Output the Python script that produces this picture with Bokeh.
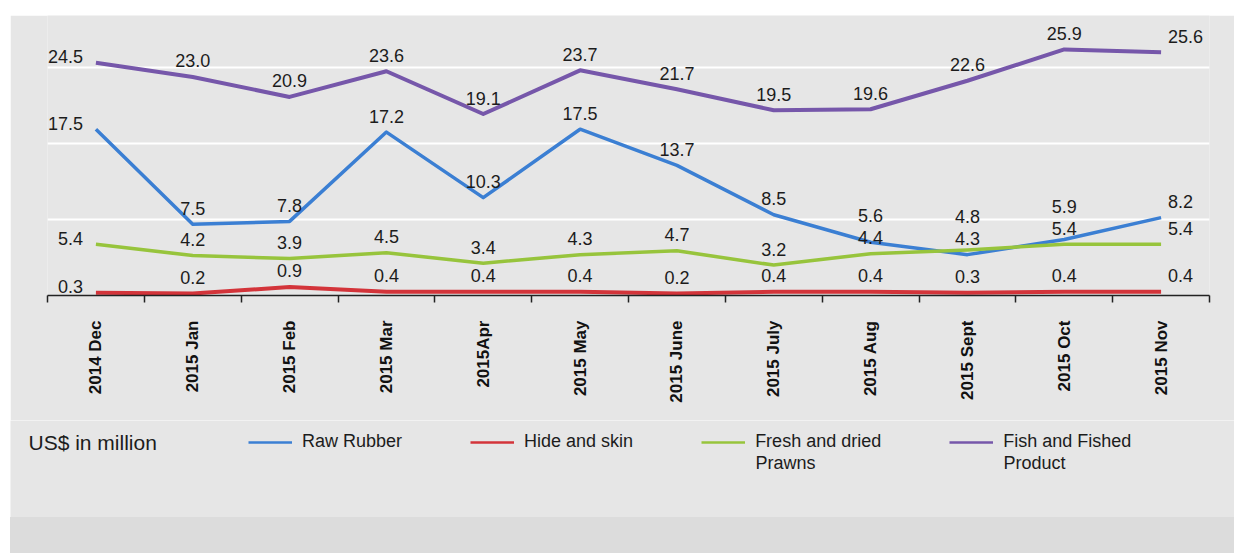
from bokeh.plotting import figure
from bokeh.models import (Range1d, FixedTicker, Legend, LegendItem, Label,
                          ColumnDataSource, Spacer)
from bokeh.layouts import column, row
from bokeh.core.properties import value
from bokeh.embed import file_html
from bokeh.resources import INLINE

# ---------------- data ----------------
months = ["2014 Dec", "2015 Jan", "2015 Feb", "2015 Mar", "2015Apr", "2015 May",
          "2015 June", "2015 July", "2015 Aug", "2015 Sept", "2015 Oct", "2015 Nov"]
raw_rubber = [17.5, 7.5, 7.8, 17.2, 10.3, 17.5, 13.7, 8.5, 5.6, 4.3, 5.9, 8.2]
hide_skin = [0.3, 0.2, 0.9, 0.4, 0.4, 0.4, 0.2, 0.4, 0.4, 0.3, 0.4, 0.4]
prawns = [5.4, 4.2, 3.9, 4.5, 3.4, 4.3, 4.7, 3.2, 4.4, 4.8, 5.4, 5.4]
fish = [24.5, 23.0, 20.9, 23.6, 19.1, 23.7, 21.7, 19.5, 19.6, 22.6, 25.9, 25.6]
unit_label = "US$ in million"
series_names = ["Raw Rubber", "Hide and skin", "Fresh and dried\nPrawns",
                "Fish and Fished\nProduct"]
grid_values = [8, 16, 24]

# ---------------- style ----------------
FONT = "Liberation Sans"
PANEL = "#e6e6e6"
LOWER = "#dcdcdc"
TXT = "#1c1c1c"
colors = {"rubber": "#3b7fd3", "hide": "#d3343a", "prawns": "#97c43c", "fish": "#7657aa"}

W = 1224
H = 405
FRAME_H = 280
Y_MAX = 29.47
PPU = FRAME_H / Y_MAX
H2 = 97

n = len(months)
xs = [i + 0.5 for i in range(n)]

p = figure(width=W, height=H, output_backend="svg", toolbar_location=None,
           x_range=Range1d(0, n), y_range=Range1d(0, Y_MAX),
           y_axis_location=None, min_border_left=37, min_border_right=25,
           min_border_top=0, min_border_bottom=H - FRAME_H)
p.background_fill_color = PANEL
p.border_fill_color = PANEL
p.outline_line_color = None
p.xgrid.visible = False
p.ygrid.ticker = FixedTicker(ticks=grid_values)
p.ygrid.grid_line_color = "white"
p.ygrid.grid_line_width = 2

ax = p.xaxis[0]
ax.ticker = FixedTicker(ticks=xs, minor_ticks=list(range(n + 1)))
ax.major_label_overrides = {x: m for x, m in zip(xs, months)}
ax.major_label_orientation = 3.14159265 / 2
ax.major_tick_out = 0
ax.major_tick_in = 0
ax.minor_tick_in = 0
ax.minor_tick_out = 7
ax.minor_tick_line_color = "#222222"
ax.minor_tick_line_width = 1.5
ax.axis_line_color = "#222222"
ax.axis_line_width = 1.5
ax.major_label_standoff = 18
ax.major_label_text_font = FONT
ax.major_label_text_font_style = "bold"
ax.major_label_text_font_size = "17px"
ax.major_label_text_color = "#111111"

series = [("fish", fish), ("rubber", raw_rubber), ("prawns", prawns), ("hide", hide_skin)]
widths = {"fish": 4, "rubber": 3.5, "prawns": 3.5, "hide": 4}
for key, vals in series:
    p.line(xs, vals, line_color=colors[key], line_width=widths[key], line_join="round")

# ---------------- value labels (rule based placement) ----------------
GAP = 22
groups = {"first": dict(x=[], y=[], t=[], dx=[], dy=[]),
          "mid": dict(x=[], y=[], t=[], dx=[], dy=[]),
          "last": dict(x=[], y=[], t=[], dx=[], dy=[])}
for i in range(n):
    col = [v[i] for _, v in series]
    order = sorted(range(len(col)), key=lambda k: col[k])
    prev = None
    if i == 0:
        g, base, dx = "first", -6, -13
    elif i == n - 1:
        g, base, dx = "last", -16, 7
    else:
        g, base, dx = "mid", -16, 0
    for k in order:
        v = col[k]
        sy = -v * PPU
        c = sy + base
        if prev is not None and c > prev - GAP:
            c = prev - GAP
        prev = c
        d = groups[g]
        d["x"].append(xs[i]); d["y"].append(v); d["t"].append(f"{v:.1f}")
        d["dx"].append(dx); d["dy"].append(c - sy)

aligns = {"first": "right", "mid": "center", "last": "left"}
for g, d in groups.items():
    src = ColumnDataSource(d)
    p.text(x="x", y="y", text="t", x_offset="dx", y_offset="dy", source=src,
           text_align=aligns[g], text_baseline="middle",
           text_font=value(FONT), text_font_size=value("18px"), text_color=TXT)

# ---------------- legend strip (second figure, pixel ranges) ----------------
p2 = figure(width=W, height=H2, output_backend="svg", toolbar_location=None,
            x_range=Range1d(0, W), y_range=Range1d(0, H2),
            x_axis_location=None, y_axis_location=None,
            min_border_left=0, min_border_right=0, min_border_top=0, min_border_bottom=0)
p2.background_fill_color = PANEL
p2.border_fill_color = PANEL
p2.outline_line_color = None
p2.grid.visible = False

LEG_X = 238
LEG_GLYPH_W = 44
LEG_STANDOFF = 10
LEG_SPACING = 68
LEG_FONT = 18

leg_keys = ["rubber", "hide", "prawns", "fish"]
items = []
for key, name in zip(leg_keys, series_names):
    # proxy renderers, placed outside the visible range, used only for legend swatches
    r = p2.line([-50, -40], [-50, -50], line_color=colors[key], line_width=2.5)
    items.append(LegendItem(label=name.split("\n")[0], renderers=[r]))
legend = Legend(items=items, orientation="horizontal", location=(LEG_X, 65),
                spacing=LEG_SPACING, glyph_width=LEG_GLYPH_W, glyph_height=20,
                label_standoff=LEG_STANDOFF,
                label_text_font=FONT, label_text_font_size=f"{LEG_FONT}px",
                label_text_color=TXT, padding=0, margin=0,
                border_line_color=None, background_fill_alpha=0)
p2.add_layout(legend, "center")

# second lines of the wrapped legend labels, aligned under their first lines
second_line_x = {2: 745, 3: 993}
for idx, name in enumerate(series_names):
    parts = name.split("\n")
    if len(parts) > 1:
        p2.add_layout(Label(x=second_line_x[idx], y=H2 - 42, text=parts[1],
                            text_font=FONT, text_font_size=f"{LEG_FONT}px",
                            text_baseline="middle", text_color=TXT))

p2.add_layout(Label(x=18, y=H2 - 22, text=unit_label,
                    text_font=FONT, text_font_size="21px", text_baseline="middle",
                    text_color=TXT))

top = Spacer(width=W + 10, height=15)
bottom = Spacer(width=W, height=36, styles={"background-color": LOWER})
layout = column(top,
                row(Spacer(width=10, height=H), p, spacing=0),
                row(Spacer(width=10, height=H2), p2, spacing=0),
                row(Spacer(width=10, height=36), bottom, spacing=0),
                spacing=0)

open("out.html", "w").write(file_html(layout, INLINE))
